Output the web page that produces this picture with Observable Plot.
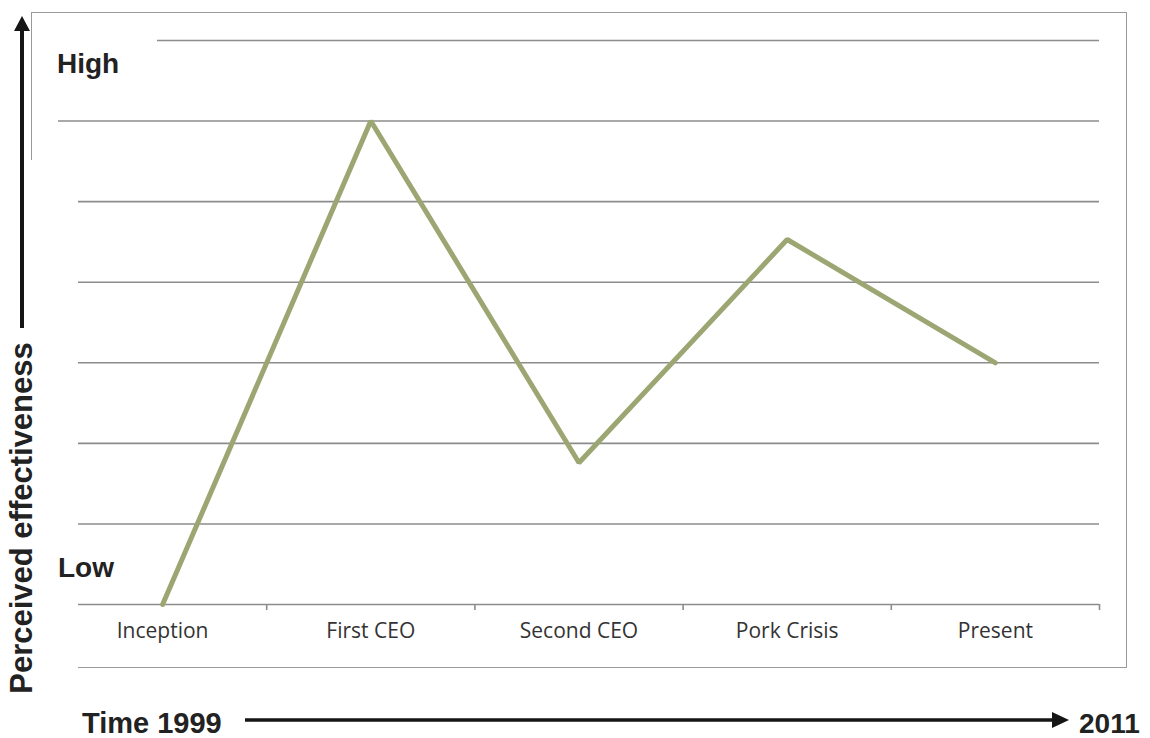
<!DOCTYPE html>
<html><head><meta charset="utf-8">
<script src="https://cdn.jsdelivr.net/npm/d3@7"></script>
<script src="https://cdn.jsdelivr.net/npm/@observablehq/plot@0.6"></script>
<style>
body{margin:0;background:#fff;}
#wrap{position:relative;width:1150px;height:738px;overflow:hidden;background:#fff;}
.abs{position:absolute;}
#wrap svg{position:absolute;left:0;top:0;}
</style></head><body>
<div id="wrap">
  <div class="abs" style="left:31px;top:12px;width:1096px;height:656px;border:1.5px solid #9a9a9a;box-sizing:border-box;"></div>
</div>
<script>
const categories = ["Inception", "First CEO", "Second CEO", "Pork Crisis", "Present"];
const effectiveness = [0, 6, 1.76, 4.53, 3];
const gridLevels = [0, 1, 2, 3, 4, 5, 6, 7];
const boundaries = [1, 2, 3, 4, 5];
const lowLabel = "Low", highLabel = "High";
const timeStart = "Time 1999", timeEnd = "2011";
const yTitle = "Perceived effectiveness";

const data = categories.map((c, i) => ({category: c, pos: i + 0.5, value: effectiveness[i]}));

const chart = Plot.plot({
  width: 1150, height: 738,
  marginLeft: 58, marginRight: 51, marginTop: 40, marginBottom: 134,
  style: {background: "transparent", overflow: "visible"},
  x: {domain: [0, categories.length], axis: null},
  y: {domain: [0, 7], axis: null},
  marks: [
    Plot.ruleY(gridLevels, {stroke: "#8c8c8c", strokeWidth: 1.6, strokeOpacity: 1}),
    Plot.axisX(boundaries, {tickSize: 6, stroke: "#8c8c8c", strokeWidth: 1.6, tickFormat: () => "", label: null}),
    Plot.text(data, {x: "pos", text: "category", frameAnchor: "bottom", dy: 33,
      fontFamily: "'Open Sans', sans-serif", fontSize: 21, fill: "#333"}),
    Plot.line(data, {x: "pos", y: "value", stroke: "#9ca672", strokeWidth: 5, strokeLinejoin: "miter"})
  ]
});
const wrap = document.getElementById("wrap");
wrap.appendChild(chart);

// white masks (as in the original figure)
const m1 = document.createElement("div");
m1.className = "abs";
m1.style.cssText = "left:0;top:160px;width:78px;height:545px;background:#fff;";
wrap.appendChild(m1);
const m2 = document.createElement("div");
m2.className = "abs";
m2.style.cssText = "left:40px;top:30px;width:117px;height:20px;background:#fff;";
wrap.appendChild(m2);

// overlay: labels and arrows
const ns = "http://www.w3.org/2000/svg";
const ov = d3.select(wrap).append("svg").attr("width", 1150).attr("height", 738)
  .style("position", "absolute").style("left", 0).style("top", 0);
const font = "'Liberation Sans', Arial, sans-serif";
const lab = (t, x, y, size, anchor = "start") => ov.append("text").attr("x", x).attr("y", y)
  .attr("font-family", font).attr("font-weight", "bold").attr("font-size", size)
  .attr("fill", "#222").attr("text-anchor", anchor).text(t);
lab(highLabel, 57, 73, 28);
lab(lowLabel, 58, 577, 28);
lab(timeStart, 82, 733, 29);
lab(timeEnd, 1079, 733, 28);
ov.append("text").attr("transform", "translate(32,518) rotate(-90)")
  .attr("font-family", font).attr("font-weight", "bold").attr("font-size", 31)
  .attr("fill", "#222").attr("text-anchor", "middle").text(yTitle);
// vertical arrow
ov.append("line").attr("x1", 22).attr("x2", 22).attr("y1", 28).attr("y2", 328)
  .attr("stroke", "#151515").attr("stroke-width", 4);
ov.append("polygon").attr("points", "22,16 14,31 30,31").attr("fill", "#151515");
// horizontal arrow
ov.append("line").attr("x1", 245).attr("x2", 1056).attr("y1", 720).attr("y2", 720)
  .attr("stroke", "#151515").attr("stroke-width", 3.5);
ov.append("polygon").attr("points", "1069,720 1052,712 1052,728").attr("fill", "#151515");
</script>
</body></html>
